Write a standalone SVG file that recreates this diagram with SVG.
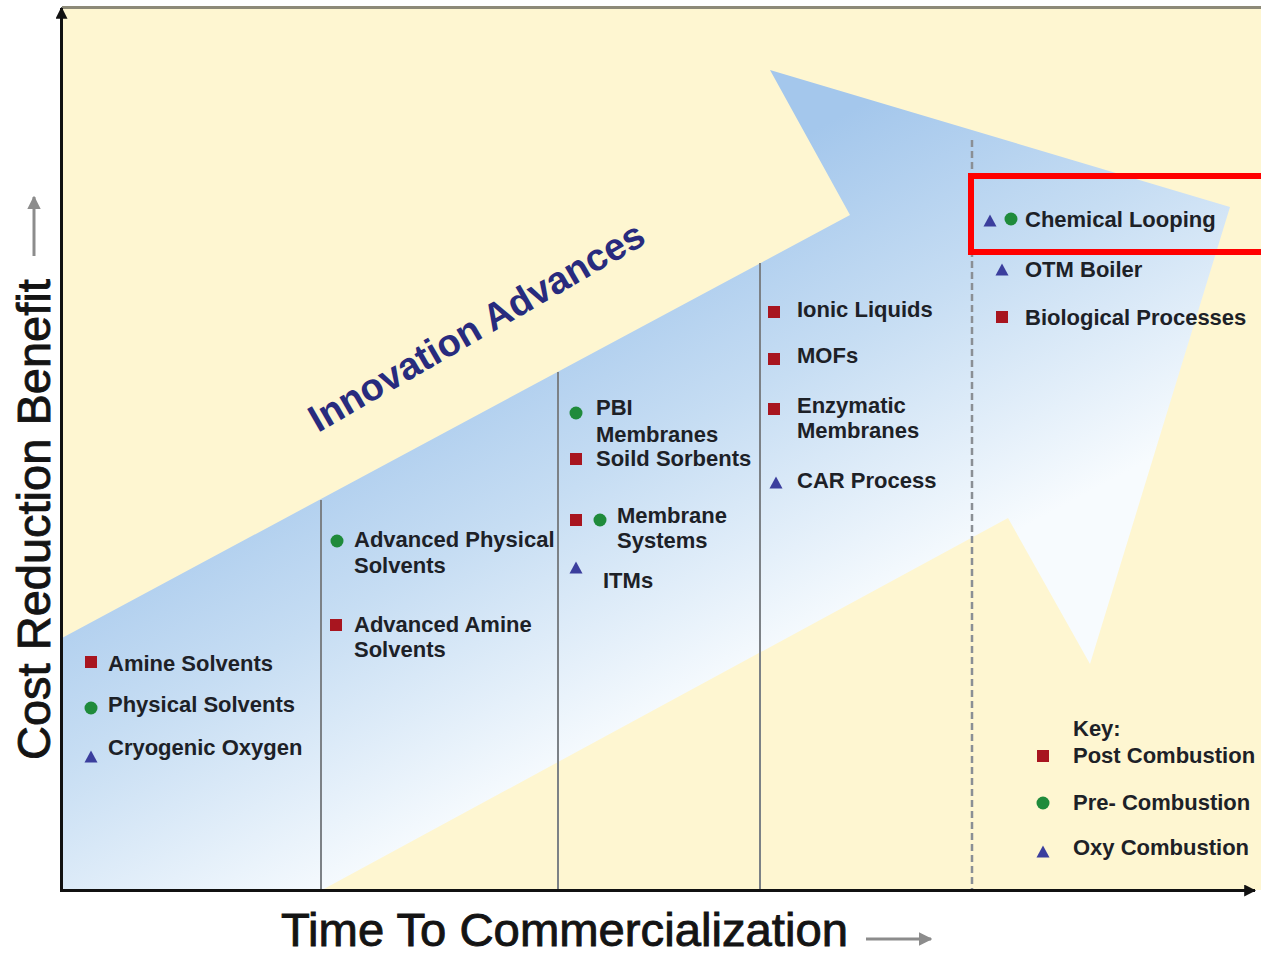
<svg xmlns="http://www.w3.org/2000/svg" xmlns:xlink="http://www.w3.org/1999/xlink" width="1261" height="955" viewBox="0 0 1261 955">
  <style>
    .lbl { font-family: "Liberation Sans", Arial, sans-serif; font-weight: bold; font-size: 22px; fill: #1d2127; }
    .axis-title { font-family: "Liberation Sans", Arial, sans-serif; font-size: 47px; fill: #141414; stroke: #141414; stroke-width: 0.9px; }
    .banner { font-family: "Liberation Sans", Arial, sans-serif; font-weight: bold; font-size: 38px; fill: #282b7e; }
    .post { fill: #a8151f; }
    .pre { fill: #1f8b3b; }
    .oxy { fill: #3b3e9d; }
    .sep { stroke: #7c8186; stroke-width: 2; fill: none; }
    .sep-dash { stroke: #8a8f95; stroke-width: 2.5; stroke-dasharray: 7 4; fill: none; }
  </style>
  <defs>
    <linearGradient id="arrowFill" gradientUnits="userSpaceOnUse" x1="235" y1="440" x2="447" y2="836">
      <stop offset="0" stop-color="#a4c7ec"/>
      <stop offset="0.45" stop-color="#c6ddf3"/>
      <stop offset="1" stop-color="#f7fbfe"/>
    </linearGradient>
    <rect id="m-post" x="-6" y="-6" width="12" height="12"/>
    <circle id="m-pre" r="6.5"/>
    <path id="m-oxy" d="M0,-6.5 L6.5,5.5 L-6.5,5.5 Z"/>
    <marker id="axisHead" viewBox="0 0 10 10" refX="9" refY="5" markerWidth="4" markerHeight="4" orient="auto">
      <path d="M0,0 L10,5 L0,10 Z" fill="#111"/>
    </marker>
    <marker id="greyHead" viewBox="0 0 10 10" refX="9" refY="5" markerWidth="4.5" markerHeight="4.5" orient="auto">
      <path d="M0,0 L10,5 L0,10 Z" fill="#8c8c8c"/>
    </marker>
  </defs>

  <!-- page and plot area -->
  <rect x="0" y="0" width="1261" height="955" fill="#ffffff"/>
  <rect x="62" y="8" width="1199" height="882" fill="#fef6d1"/>
  <line x1="62" y1="7.5" x2="1261" y2="7.5" stroke="#8d8a78" stroke-width="3"/>

  <!-- the big innovation arrow -->
  <polygon id="innovation-arrow" points="62,638 850,215 770,70 1230,207 1090,664 1008,518 322,890 62,890" fill="url(#arrowFill)"/>

  <!-- column separators -->
  <g id="separators">
    <line class="sep" x1="321" y1="500" x2="321" y2="890"/>
    <line class="sep" x1="558" y1="372" x2="558" y2="890"/>
    <line class="sep" x1="760" y1="263" x2="760" y2="890"/>
    <line class="sep-dash" x1="972" y1="140" x2="972" y2="890"/>
  </g>

  <!-- axes -->
  <g id="connectors">
    <line x1="61.5" y1="891" x2="61.5" y2="8" stroke="#111" stroke-width="3" marker-end="url(#axisHead)"/>
    <line x1="60" y1="890.5" x2="1255" y2="890.5" stroke="#111" stroke-width="3" marker-end="url(#axisHead)"/>
    <line x1="34" y1="256" x2="34" y2="197" stroke="#8c8c8c" stroke-width="3" marker-end="url(#greyHead)"/>
    <line x1="866" y1="939" x2="931" y2="939" stroke="#8c8c8c" stroke-width="3" marker-end="url(#greyHead)"/>
  </g>

  <!-- axis titles -->
  <text id="y-title" class="axis-title" transform="translate(50,760) rotate(-90)">Cost Reduction Benefit</text>
  <text id="x-title" class="axis-title" x="281" y="946" textLength="567" lengthAdjust="spacingAndGlyphs">Time To Commercialization</text>

  <text id="banner" class="banner" transform="translate(318,433) rotate(-30)">Innovation Advances</text>

  <!-- column 1 -->
  <g id="amine-solvents"><use xlink:href="#m-post" class="post" x="91" y="662"/><text class="lbl" x="108" y="671">Amine Solvents</text></g>
  <g id="physical-solvents"><use xlink:href="#m-pre" class="pre" x="91" y="708"/><text class="lbl" x="108" y="712">Physical Solvents</text></g>
  <g id="cryogenic-oxygen"><use xlink:href="#m-oxy" class="oxy" x="91" y="757"/><text class="lbl" x="108" y="755">Cryogenic Oxygen</text></g>

  <!-- column 2 -->
  <g id="advanced-physical-solvents"><use xlink:href="#m-pre" class="pre" x="337" y="541"/><text class="lbl" x="354" y="547">Advanced Physical</text><text class="lbl" x="354" y="573">Solvents</text></g>
  <g id="advanced-amine-solvents"><use xlink:href="#m-post" class="post" x="336" y="625"/><text class="lbl" x="354" y="632">Advanced Amine</text><text class="lbl" x="354" y="657">Solvents</text></g>

  <!-- column 3 -->
  <g id="pbi-membranes"><use xlink:href="#m-pre" class="pre" x="576" y="413"/><text class="lbl" x="596" y="415">PBI</text><text class="lbl" x="596" y="442">Membranes</text></g>
  <g id="solid-sorbents"><use xlink:href="#m-post" class="post" x="576" y="459"/><text class="lbl" x="596" y="466">Soild Sorbents</text></g>
  <g id="membrane-systems"><use xlink:href="#m-post" class="post" x="576" y="520"/><use xlink:href="#m-pre" class="pre" x="600" y="520"/><text class="lbl" x="617" y="523">Membrane</text><text class="lbl" x="617" y="548">Systems</text></g>
  <g id="itms"><use xlink:href="#m-oxy" class="oxy" x="576" y="568"/><text class="lbl" x="603" y="588">ITMs</text></g>

  <!-- column 4 -->
  <g id="ionic-liquids"><use xlink:href="#m-post" class="post" x="774" y="312"/><text class="lbl" x="797" y="317">Ionic Liquids</text></g>
  <g id="mofs"><use xlink:href="#m-post" class="post" x="774" y="359"/><text class="lbl" x="797" y="363">MOFs</text></g>
  <g id="enzymatic-membranes"><use xlink:href="#m-post" class="post" x="774" y="409"/><text class="lbl" x="797" y="413">Enzymatic</text><text class="lbl" x="797" y="438">Membranes</text></g>
  <g id="car-process"><use xlink:href="#m-oxy" class="oxy" x="776" y="483"/><text class="lbl" x="797" y="488">CAR Process</text></g>

  <!-- column 5 -->
  <g id="chemical-looping"><use xlink:href="#m-oxy" class="oxy" x="990" y="221"/><use xlink:href="#m-pre" class="pre" x="1011" y="219"/><text class="lbl" x="1025" y="227">Chemical Looping</text></g>
  <g id="otm-boiler"><use xlink:href="#m-oxy" class="oxy" x="1002" y="270"/><text class="lbl" x="1025" y="277">OTM Boiler</text></g>
  <g id="biological-processes"><use xlink:href="#m-post" class="post" x="1002" y="317"/><text class="lbl" x="1025" y="325">Biological Processes</text></g>

  <!-- highlight frame -->
  <rect id="highlight" x="971" y="176" width="310" height="76" fill="none" stroke="#ff0000" stroke-width="6"/>

  <!-- key -->
  <g id="key">
    <text class="lbl" x="1073" y="736">Key:</text>
    <use xlink:href="#m-post" class="post" x="1043" y="756"/><text class="lbl" x="1073" y="763">Post Combustion</text>
    <use xlink:href="#m-pre" class="pre" x="1043" y="803"/><text class="lbl" x="1073" y="810">Pre- Combustion</text>
    <use xlink:href="#m-oxy" class="oxy" x="1043" y="852"/><text class="lbl" x="1073" y="855">Oxy Combustion</text>
  </g>
</svg>
